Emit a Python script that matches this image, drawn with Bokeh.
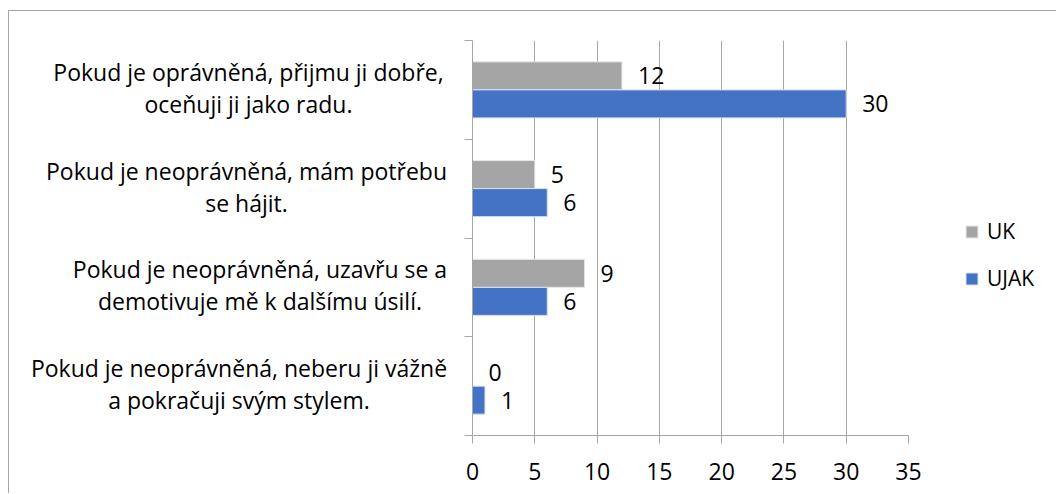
from bokeh.plotting import figure
from bokeh.layouts import row
from bokeh.models import (Range1d, FixedTicker, ColumnDataSource, LabelSet,
                          Legend, LegendItem)
from bokeh.core.properties import value
from bokeh.transform import dodge
from bokeh.embed import file_html
from bokeh.resources import INLINE

categories = [
    "Pokud je oprávněná, přijmu ji dobře,\noceňuji ji jako radu.",
    "Pokud je neoprávněná, mám potřebu\nse hájit.",
    "Pokud je neoprávněná, uzavřu se a\ndemotivuje mě k dalšímu úsilí.",
    "Pokud je neoprávněná, neberu ji vážně\na pokračuji svým stylem.",
]
series_names = ["UK", "UJAK"]
uk = [12, 5, 9, 0]
ujak = [30, 6, 6, 1]
x_ticks = [0, 5, 10, 15, 20, 25, 30, 35]

# layout constants (pixels)
FONT = "Open Sans"
GRID = "#a6a6a6"
TOTAL_W, TOTAL_H = 1046, 482
LAB_W = 455
TOP, FRAME_H = 29, 395
FRAME_W = 436
BOTTOM = TOTAL_H - TOP - FRAME_H
label_centers_px = [239, 237, 250.5, 229.5]   # horizontal centre of each label block

n = len(categories)
pos = [i + 0.5 for i in range(n)]
bounds = [float(i) for i in range(n + 1)]

src = ColumnDataSource(dict(
    pos=pos, uk=uk, ujak=ujak,
    uk_txt=[str(v) for v in uk], ujak_txt=[str(v) for v in ujak],
))
lab_src = ColumnDataSource(dict(pos=pos, cat=categories, cx=label_centers_px))

# ---- category label panel ----
lf = figure(frame_width=LAB_W, frame_height=FRAME_H,
            x_range=Range1d(0, LAB_W), y_range=Range1d(n, 0),
            output_backend="svg", toolbar_location=None,
            x_axis_type=None, y_axis_type=None,
            min_border_left=0, min_border_right=0,
            min_border_top=TOP, min_border_bottom=BOTTOM)
lf.outline_line_color = None
lf.grid.visible = False
lf.text(x="cx", y="pos", text="cat", source=lab_src,
        text_align="center", text_baseline="middle", y_offset=-2,
        text_font=value(FONT), text_font_size="23px", text_color="black",
        text_line_height=1.0)

# ---- main chart ----
main_w = TOTAL_W - LAB_W
p = figure(frame_width=FRAME_W, frame_height=FRAME_H,
           x_range=Range1d(0, 35), y_range=Range1d(n, 0),
           output_backend="svg", toolbar_location=None,
           min_border_left=8, min_border_right=main_w - 8 - FRAME_W,
           min_border_top=TOP, min_border_bottom=BOTTOM)
p.outline_line_color = None

bh = 0.2836
off = bh / 2
r_uk = p.hbar(y=dodge("pos", -off, range=p.y_range), left=0, right="uk", height=bh,
              fill_color="#a5a5a5", line_color="#e8e8e8", line_width=1, source=src)
r_ujak = p.hbar(y=dodge("pos", off, range=p.y_range), left=0, right="ujak", height=bh,
                fill_color="#4472c4", line_color="#d6e0f2", line_width=1, source=src)

for col, txt, o in (("uk", "uk_txt", -off), ("ujak", "ujak_txt", off)):
    p.add_layout(LabelSet(x=col, y=dodge("pos", o, range=p.y_range), text=txt,
                          source=src, x_offset=16, text_align="left",
                          text_baseline="middle", text_font=value(FONT),
                          text_font_size="23px", text_color="black"))

p.xaxis.ticker = FixedTicker(ticks=x_ticks)
p.xgrid.ticker = FixedTicker(ticks=x_ticks)
p.xgrid.grid_line_color = GRID
p.xaxis.axis_line_color = GRID
p.xaxis.major_tick_line_color = GRID
p.xaxis.major_tick_out = 8
p.xaxis.major_tick_in = 0
p.xaxis.minor_tick_line_color = None
p.xaxis.major_label_text_font = FONT
p.xaxis.major_label_text_font_size = "23px"
p.xaxis.major_label_text_color = "black"
p.xaxis.major_label_standoff = 19

p.ygrid.visible = False
p.yaxis.ticker = FixedTicker(ticks=[], minor_ticks=bounds)
p.yaxis.axis_line_color = GRID
p.yaxis.major_tick_line_color = None
p.yaxis.major_tick_out = 0
p.yaxis.major_tick_in = 0
p.yaxis.minor_tick_line_color = GRID
p.yaxis.minor_tick_out = 8
p.yaxis.minor_tick_in = 0
p.yaxis.major_label_standoff = 0

legend = Legend(items=[LegendItem(label=series_names[0], renderers=[r_uk]),
                       LegendItem(label=series_names[1], renderers=[r_ujak])],
                location=(56, 142), orientation="vertical",
                padding=0, margin=0, spacing=17,
                glyph_width=15, glyph_height=15, label_height=30,
                label_standoff=8, label_text_font=FONT, label_text_font_size="21px",
                label_text_color="black", background_fill_alpha=0,
                border_line_color=None)
p.add_layout(legend, "right")

layout = row(lf, p, spacing=0)
layout.styles = {"border-left": "1px solid #a6a6a6", "border-top": "1px solid #a6a6a6",
                 "margin-left": "8px", "margin-top": "10px"}

open("out.html", "w").write(file_html(layout, INLINE))
